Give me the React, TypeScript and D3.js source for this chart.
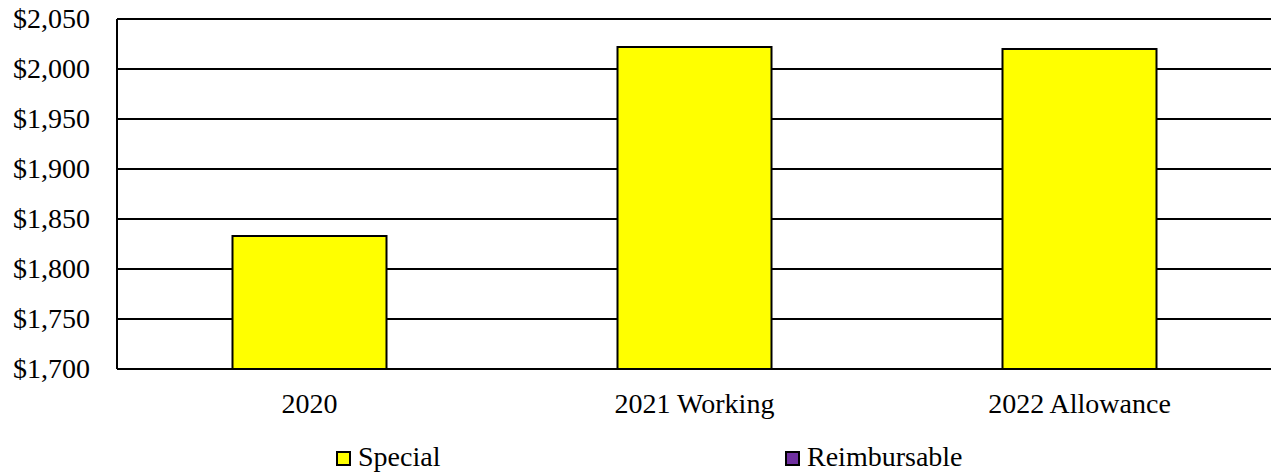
import React from "react";
import * as d3 from "d3";

const categories = ["2020", "2021 Working", "2022 Allowance"];
const specialValues = [1833, 2022, 2020];
const yTicks = [1700, 1750, 1800, 1850, 1900, 1950, 2000, 2050];
const legendItems = [
  { name: "Special", color: "#FFFF00" },
  { name: "Reimbursable", color: "#7030A0" },
];

const W = 1271;
const H = 472;
const left = 117;
const right = 1272;
const top = 19;
const bottom = 369;
const textStyle = { fontFamily: "Liberation Serif", fontSize: 28 };

export default function App() {
  const x = d3.scaleBand<string>().domain(categories).range([left, right]).paddingInner(0.6).paddingOuter(0.3);
  const y = d3.scaleLinear().domain([1700, 2050]).range([bottom, top]);
  const fmt = (v: number) => "$" + d3.format(",")(v);
  return (
    <svg width={W} height={H} style={{ position: "absolute", left: 0, top: 0, background: "#fff" }}>
      {yTicks.map((t) => (
        <line key={t} x1={left} x2={W} y1={y(t)} y2={y(t)} stroke="#000" strokeWidth={2} />
      ))}
      {categories.map((c, i) => (
        <rect
          key={c}
          x={x(c)}
          y={y(specialValues[i])}
          width={x.bandwidth()}
          height={y(1700) - y(specialValues[i])}
          fill="#FFFF00"
          stroke="#000"
          strokeWidth={2}
        />
      ))}
      <line x1={left} x2={left} y1={top} y2={bottom} stroke="#000" strokeWidth={2} />
      <line x1={left} x2={W} y1={bottom} y2={bottom} stroke="#000" strokeWidth={2} />
      {yTicks.map((t) => (
        <text key={t} x={90} y={y(t) + 9} textAnchor="end" style={textStyle}>
          {fmt(t)}
        </text>
      ))}
      {categories.map((c) => (
        <text key={c} x={(x(c) as number) + x.bandwidth() / 2} y={413} textAnchor="middle" style={textStyle}>
          {c}
        </text>
      ))}
      {legendItems.map((l, i) => {
        const lx = i === 0 ? 337 : 786;
        return (
          <g key={l.name}>
            <rect x={lx} y={452} width={13} height={13} fill={l.color} stroke="#000" strokeWidth={2} />
            <text x={lx + 21} y={466} style={textStyle}>
              {l.name}
            </text>
          </g>
        );
      })}
    </svg>
  );
}
